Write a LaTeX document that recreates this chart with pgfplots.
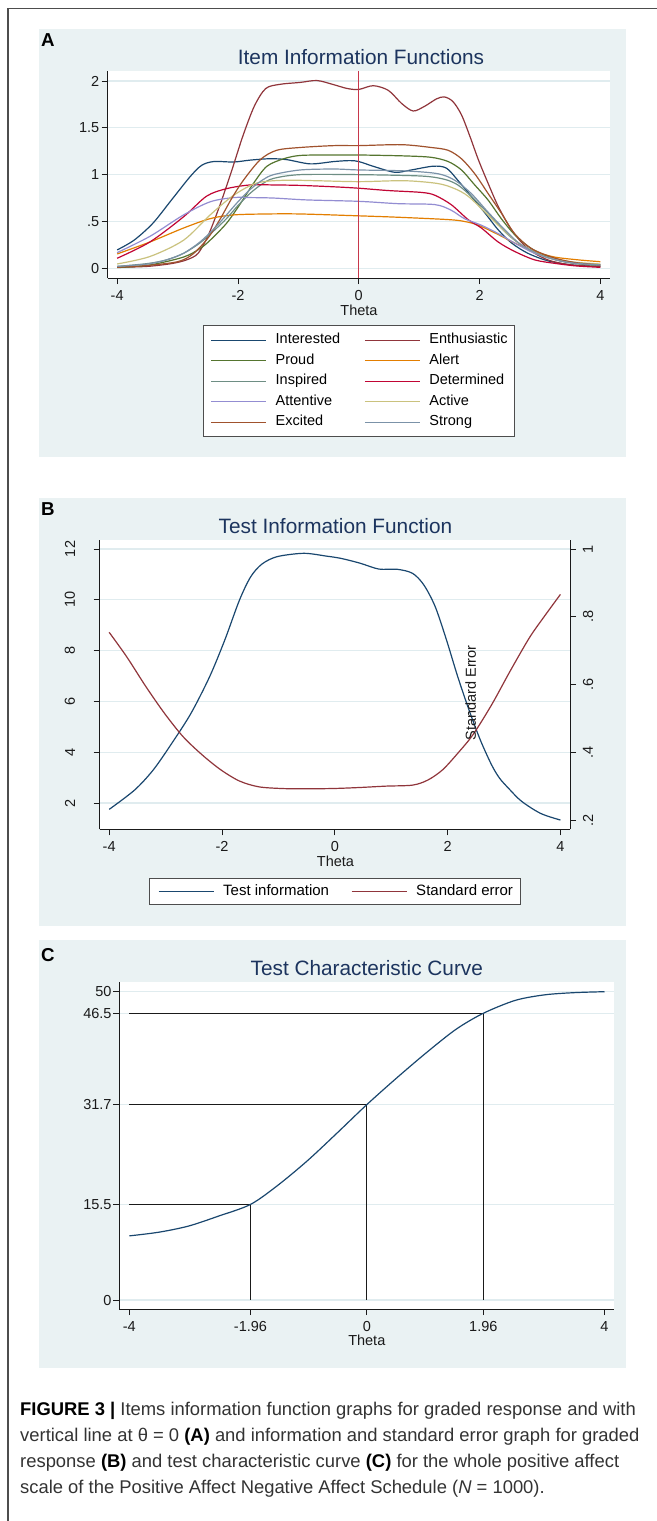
\documentclass[border=0pt]{standalone}
\usepackage{fontspec}
\setmainfont{Liberation Sans}
\usepackage{pgfplots}
\pgfplotsset{compat=1.18}
\definecolor{bgc}{HTML}{EAF2F3}
\definecolor{gridc}{HTML}{E0ECEF}
\definecolor{titlec}{HTML}{1C345E}
\definecolor{sNavy}{HTML}{1A476F}
\definecolor{sMaroon}{HTML}{90353B}
\definecolor{sForest}{HTML}{55752F}
\definecolor{sOrange}{HTML}{E37E00}
\definecolor{sTeal}{HTML}{6E8E84}
\definecolor{sCran}{HTML}{C10534}
\definecolor{sLav}{HTML}{938DD2}
\definecolor{sKhaki}{HTML}{CAC27E}
\definecolor{sSienna}{HTML}{A0522D}
\definecolor{sEmid}{HTML}{7B92A8}
\definecolor{vlinec}{HTML}{C8374B}
\definecolor{axc}{HTML}{1A1A1A}
\definecolor{framec}{HTML}{4D4D4D}
\definecolor{capc}{HTML}{333333}
\newcommand\tsz{\fontsize{14.5bp}{17bp}\selectfont}
\newcommand\ttl{\fontsize{20.8bp}{24bp}\selectfont}
\newcommand\csz{\fontsize{18.4bp}{22bp}\selectfont}
\pgfplotsset{
  stata/.style={
    scale only axis,
    axis background/.style={fill=white},
    axis line style={axc, line width=0.9bp},
    tick style={axc, line width=0.9bp},
    major tick length=6bp,
    tick align=outside,
    ymajorgrids,
    grid style={gridc, line width=1.2bp},
    tick label style={font=\tsz, text=axc},
    /pgf/number format/assume math mode=true,
  },
  legimg/.style={legend image code/.code={\draw[##1] (0bp,0bp) -- (55bp,0bp);}},
}

\begin{document}
\begin{tikzpicture}
\path[use as bounding box] (0,0) rectangle (657bp,-1521bp);
\begin{scope}[x=1bp,y=-1bp]
  \fill[white] (0,0) rectangle (657,1521);
  \draw[line width=1.5bp, framec] (8,1521) -- (8,8.5) -- (657,8.5);
  \fill[bgc] (39,29) rectangle (626,457);
  \fill[bgc] (39,498) rectangle (626,926);
  \fill[bgc] (39,940) rectangle (626,1368);
  \node[anchor=base west, inner sep=0pt, font=\fontsize{18.7bp}{22bp}\selectfont\bfseries] at (41,46.7) {A};
  \node[anchor=base west, inner sep=0pt, font=\fontsize{18.7bp}{22bp}\selectfont\bfseries] at (41,515) {B};
  \node[anchor=base west, inner sep=0pt, font=\fontsize{18.7bp}{22bp}\selectfont\bfseries] at (41,961) {C};
  \node[anchor=base, inner sep=0pt, font=\ttl, text=titlec] at (361,64.3) {Item Information Functions};
  \node[anchor=base, inner sep=0pt, font=\ttl, text=titlec] at (335.5,533.3) {Test Information Function};
  \node[anchor=base, inner sep=0pt, font=\ttl, text=titlec] at (366.8,975) {Test Characteristic Curve};
  \node[anchor=base, inner sep=0pt, font=\tsz, text=axc] at (359,315) {Theta};
  \node[anchor=base, inner sep=0pt, font=\tsz, text=axc] at (335.5,866.7) {Theta};
  \node[anchor=base, inner sep=0pt, font=\tsz, text=axc] at (366.8,1345) {Theta};
  \node[anchor=base west, inner sep=0pt, font=\csz, text=capc] at (20,1415) {\textbf{\color{black}FIGURE 3 |} Items information function graphs for graded response and with};
  \node[anchor=base west, inner sep=0pt, font=\csz, text=capc] at (20,1441) {vertical line at θ = 0 \textbf{\color{black}(A)} and information and standard error graph for graded};
  \node[anchor=base west, inner sep=0pt, font=\csz, text=capc] at (20,1467) {response \textbf{\color{black}(B)} and test characteristic curve \textbf{\color{black}(C)} for the whole positive affect};
  \node[anchor=base west, inner sep=0pt, font=\csz, text=capc] at (20,1493) {scale of the Positive Affect Negative Affect Schedule (\textit{N} = 1000).};
\end{scope}

% ---------------- Panel A ----------------
\begin{axis}[stata, at={(107.5bp,-278bp)}, anchor=south west,
  width=502.5bp, height=207bp,
  xmin=-4.16, xmax=4.16, ymin=-0.104, ymax=2.107,
  axis x line*=bottom, axis y line*=left,
  xtick={-4,-2,0,2,4}, xticklabels={-4,-2,0,2,4},
  ytick={0,0.5,1,1.5,2}, yticklabels={0,.5,1,1.5,2},
  yticklabel style={anchor=east, inner sep=0pt, xshift=-2bp},
  xticklabel style={anchor=base, inner sep=0pt, yshift=-16.5bp},
  legimg, legend columns=2, legend cell align=left,
  legend style={at={(0.19,-0.227)}, anchor=north west, draw=framec, line width=1bp,
    fill=white, inner xsep=7bp, inner ysep=8bp, font=\tsz,
    nodes={inner sep=0bp, text height=10.5bp, text depth=3bp},
    row sep=7bp,
    /tikz/every odd column/.append style={column sep=9bp},
    /tikz/every even column/.append style={column sep=24bp}},
]
\addlegendimage{sNavy, line width=1.2bp}\addlegendentry{Interested}
\addlegendimage{sMaroon, line width=1.2bp}\addlegendentry{Enthusiastic}
\addlegendimage{sForest, line width=1.2bp}\addlegendentry{Proud}
\addlegendimage{sOrange, line width=1.2bp}\addlegendentry{Alert}
\addlegendimage{sTeal, line width=1.2bp}\addlegendentry{Inspired}
\addlegendimage{sCran, line width=1.2bp}\addlegendentry{Determined}
\addlegendimage{sLav, line width=1.2bp}\addlegendentry{Attentive}
\addlegendimage{sKhaki, line width=1.2bp}\addlegendentry{Active}
\addlegendimage{sSienna, line width=1.2bp}\addlegendentry{Excited}
\addlegendimage{sEmid, line width=1.2bp}\addlegendentry{Strong}
% Interested
\addplot[smooth, line width=1.2bp, sNavy, forget plot] table {
-4 0.196
-3.72 0.30
-3.41 0.48
-3.1 0.73
-2.79 0.98
-2.6 1.10
-2.4 1.14
-2.07 1.135
-1.8 1.155
-1.47 1.17
-1.19 1.16
-0.8 1.115
-0.41 1.14
-0.15 1.15
0 1.14
0.26 1.085
0.6 1.025
0.87 1.05
1.23 1.09
1.45 1.07
1.64 0.94
1.86 0.77
2.09 0.59
2.31 0.41
2.53 0.27
2.80 0.16
3.13 0.08
3.52 0.036
4 0.018
};
% Enthusiastic
\addplot[smooth, line width=1.2bp, sMaroon, forget plot] table {
-4 0.01
-3.5 0.02
-3.1 0.05
-2.85 0.09
-2.66 0.16
-2.48 0.37
-2.29 0.69
-2.1 1.05
-1.92 1.41
-1.73 1.73
-1.54 1.92
-1.3 1.965
-0.97 1.985
-0.69 2.005
-0.41 1.96
-0.19 1.92
0 1.91
0.24 1.95
0.49 1.90
0.71 1.76
0.9 1.68
1.09 1.73
1.29 1.81
1.42 1.83
1.56 1.78
1.70 1.64
1.84 1.41
1.98 1.16
2.14 0.91
2.31 0.66
2.53 0.41
2.80 0.21
3.13 0.09
3.52 0.036
4 0.018
};
% Proud
\addplot[smooth, line width=1.2bp, sForest, forget plot] table {
-4 0.007
-3.46 0.035
-2.9 0.12
-2.63 0.21
-2.46 0.3
-2.19 0.48
-1.96 0.69
-1.74 0.91
-1.52 1.09
-1.24 1.17
-0.97 1.205
-0.5 1.21
0 1.21
0.76 1.20
1.2 1.185
1.48 1.14
1.7 1.05
1.92 0.89
2.14 0.73
2.36 0.53
2.58 0.36
2.86 0.21
3.24 0.096
3.6 0.05
4 0.03
};
% Alert
\addplot[smooth, line width=1.2bp, sOrange, forget plot] table {
-4 0.153
-3.46 0.28
-2.9 0.43
-2.46 0.53
-2.07 0.57
-1.52 0.58
-0.97 0.58
0 0.56
0.65 0.545
1.48 0.52
1.75 0.50
1.98 0.46
2.31 0.36
2.58 0.27
2.91 0.18
3.24 0.12
3.63 0.09
4 0.07
};
% Inspired
\addplot[smooth, line width=1.2bp, sTeal, forget plot] table {
-4 0.02
-3.5 0.05
-3.18 0.09
-2.9 0.16
-2.63 0.27
-2.4 0.40
-2.19 0.53
-2.0 0.67
-1.8 0.80
-1.6 0.90
-1.41 0.96
-0.97 1.0
0 1.0
1.04 0.985
1.42 0.95
1.64 0.89
1.86 0.77
2.14 0.59
2.42 0.39
2.69 0.25
3.08 0.125
3.5 0.06
4 0.036
};
% Determined
\addplot[smooth, line width=1.2bp, sCran, forget plot] table {
-4 0.107
-3.46 0.28
-2.9 0.55
-2.52 0.77
-2.19 0.85
-1.8 0.89
-1.41 0.89
-0.97 0.885
-0.41 0.87
0 0.855
0.49 0.83
1.04 0.81
1.26 0.78
1.53 0.68
1.81 0.52
2.03 0.43
2.31 0.28
2.58 0.18
2.91 0.09
3.24 0.053
3.6 0.025
4 0.01
};
% Attentive
\addplot[smooth, line width=1.2bp, sLav, forget plot] table {
-4 0.167
-3.46 0.34
-2.9 0.57
-2.46 0.71
-2.07 0.755
-1.8 0.755
-1.41 0.75
-0.86 0.73
0 0.715
0.65 0.69
1.26 0.68
1.53 0.62
1.75 0.53
2.03 0.46
2.31 0.37
2.58 0.27
2.91 0.16
3.24 0.096
3.6 0.055
4 0.036
};
% Active
\addplot[smooth, line width=1.2bp, sKhaki, forget plot] table {
-4 0.046
-3.46 0.125
-2.9 0.30
-2.46 0.57
-2.07 0.78
-1.69 0.91
-1.24 0.94
-0.69 0.935
0 0.925
0.76 0.935
1.31 0.905
1.59 0.85
1.81 0.77
2.09 0.60
2.36 0.43
2.69 0.25
3.08 0.125
3.5 0.07
4 0.046
};
% Excited
\addplot[smooth, line width=1.2bp, sSienna, forget plot] table {
-4 0.01
-3.5 0.03
-3 0.07
-2.75 0.15
-2.5 0.32
-2.3 0.52
-2.1 0.75
-1.91 0.94
-1.63 1.16
-1.36 1.26
-0.97 1.29
-0.41 1.31
0 1.31
0.71 1.32
1.2 1.29
1.48 1.26
1.70 1.17
1.92 1.01
2.14 0.80
2.36 0.59
2.58 0.37
2.86 0.21
3.24 0.11
3.6 0.06
4 0.036
};
% Strong
\addplot[smooth, line width=1.2bp, sEmid, forget plot] table {
-4 0.02
-3.5 0.045
-3.18 0.09
-2.9 0.16
-2.63 0.28
-2.4 0.42
-2.19 0.57
-2.0 0.71
-1.8 0.84
-1.6 0.94
-1.41 1.0
-0.97 1.05
-0.41 1.06
0 1.05
0.76 1.04
1.31 1.01
1.59 0.94
1.86 0.80
2.14 0.6
2.42 0.41
2.69 0.25
3.08 0.125
3.5 0.06
4 0.036
};
\addplot[vlinec, line width=1.3bp, forget plot] coordinates {(0,-0.104) (0,2.107)};
\end{axis}

% ---------------- Panel B ----------------
\begin{axis}[stata, at={(99.6bp,-829.3bp)}, anchor=south west,
  width=470.4bp, height=289.3bp,
  xmin=-4.17, xmax=4.17, ymin=0.965, ymax=12.354,
  axis x line*=bottom, axis y line*=left,
  xtick={-4,-2,0,2,4}, xticklabels={-4,-2,0,2,4},
  ytick={2,4,6,8,10,12}, yticklabels={2,4,6,8,10,12},
  yticklabel style={inner sep=0pt, xshift=-18.4bp, rotate=90, anchor=south},
  xticklabel style={anchor=base, inner sep=0pt, yshift=-16.4bp},
  legimg, legend columns=2, legend cell align=left,
  legend style={at={(0.106,-0.167)}, anchor=north west, draw=framec, line width=1bp,
    fill=white, inner xsep=8bp, inner ysep=6.5bp, font=\fontsize{15bp}{17bp}\selectfont,
    nodes={inner sep=0bp, text height=10.5bp, text depth=3bp},
    /tikz/every odd column/.append style={column sep=9bp},
    /tikz/every even column/.append style={column sep=22bp}},
]
\addlegendimage{sNavy, line width=1.2bp}\addlegendentry{Test information}
\addlegendimage{sMaroon, line width=1.2bp}\addlegendentry{Standard error}
\addplot[smooth, line width=1.2bp, sNavy, forget plot] table {
-4 1.75
-3.55 2.51
-3.22 3.30
-2.89 4.35
-2.55 5.53
-2.22 6.97
-1.95 8.42
-1.69 9.99
-1.49 10.91
-1.29 11.41
-1.02 11.70
-0.55 11.83
-0.15 11.72
0.11 11.63
0.45 11.44
0.78 11.21
1.11 11.20
1.38 11.04
1.58 10.58
1.78 9.73
1.98 8.42
2.18 6.97
2.38 5.66
2.58 4.48
2.78 3.50
2.92 2.98
3.08 2.58
3.31 2.07
3.65 1.59
4 1.33
};
\end{axis}
\begin{axis}[stata, at={(99.6bp,-829.3bp)}, anchor=south west,
  width=470.4bp, height=289.3bp,
  axis background/.style={}, ymajorgrids=false,
  xmin=-4.17, xmax=4.17, ymin=0.1725, ymax=1.0266,
  axis x line=none, axis y line*=right, xtick=\empty,
  ytick={0.2,0.4,0.6,0.8,1}, yticklabels={.2,.4,.6,.8,1},
  yticklabel style={inner sep=0pt, xshift=6.75bp, rotate=90, anchor=north},
]
\addplot[smooth, line width=1.2bp, sMaroon] table {
-4 0.754
-3.69 0.682
-3.35 0.594
-3.02 0.515
-2.69 0.446
-2.35 0.392
-2.02 0.348
-1.69 0.315
-1.35 0.298
-0.95 0.293
-0.55 0.292
-0.02 0.293
0.45 0.296
0.91 0.300
1.38 0.303
1.65 0.318
1.91 0.348
2.18 0.397
2.45 0.452
2.78 0.540
3.11 0.640
3.45 0.738
3.71 0.800
4 0.866
};
\node[rotate=90, font=\tsz, text=axc, inner sep=0pt] at (axis cs:2.41,0.575) {Standard Error};
\end{axis}

% ---------------- Panel C ----------------
\begin{axis}[stata, at={(119.2bp,-1309bp)}, anchor=south west,
  width=495.1bp, height=327.3bp,
  xmin=-4.17, xmax=4.165, ymin=-1.46, ymax=51.62,
  axis x line*=bottom, axis y line*=left,
  xtick={-4,-1.96,0,1.96,4}, xticklabels={-4,-1.96,0,1.96,4},
  ytick={0,15.5,31.7,46.5,50}, yticklabels={0,15.5,31.7,46.5,50},
  yticklabel style={anchor=east, inner sep=0pt, xshift=-1.5bp},
  xticklabel style={anchor=base, inner sep=0pt, yshift=-16.7bp},
]
\addplot[axc, line width=1.1bp] coordinates {(-4,46.5) (1.96,46.5) (1.96,0)};
\addplot[axc, line width=1.1bp] coordinates {(-4,31.7) (0,31.7) (0,0)};
\addplot[axc, line width=1.1bp] coordinates {(-4,15.5) (-1.96,15.5) (-1.96,0)};
\addplot[smooth, line width=1.2bp, sNavy] table {
-4 10.4
-3.5 11.0
-3 12.0
-2.5 13.6
-1.96 15.5
-1.5 18.6
-1 22.6
-0.5 27.1
0 31.7
0.5 36.0
1 40.1
1.5 43.9
1.96 46.5
2.5 48.6
3 49.5
3.5 49.85
4 50.0
};
\end{axis}
\end{tikzpicture}
\end{document}
